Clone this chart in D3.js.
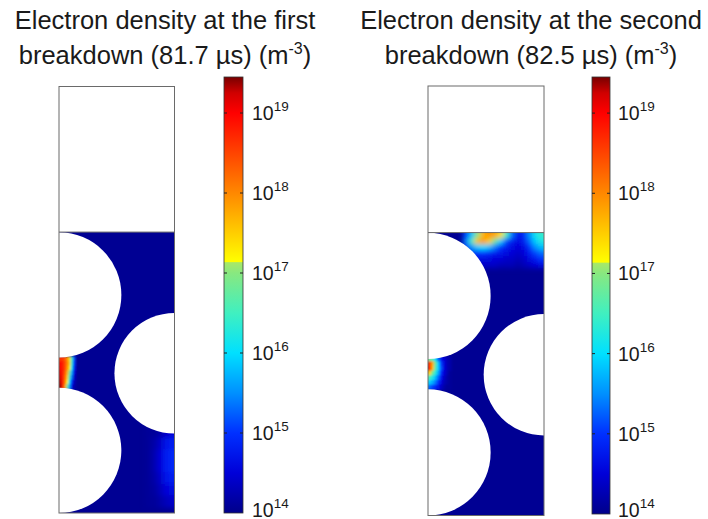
<!DOCTYPE html>
<html><head><meta charset="utf-8">
<script src="https://cdn.jsdelivr.net/npm/d3@7"></script>
<style>body{margin:0;background:#fff} svg{display:block}</style>
</head><body>
<svg id="c" width="708" height="519"></svg>
<script>
// ---------- DATA ----------
// colormap stops (log10 of electron density, m^-3)
const stopValues = [14.0, 14.5, 15.0, 15.5, 16.0, 16.5, 17.0, 17.13, 17.14, 17.6, 18.0, 18.5, 19.0, 19.25, 19.45];
const stopColors = ["#00008a", "#0000d8", "#0030ff", "#0090ff", "#00e0ff", "#40f0c0", "#88e880", "#a8e868",
                    "#ffff00", "#ffc000", "#ff8800", "#ff4400", "#ff0000", "#d00000", "#780000"];
const tickExponents = [14, 15, 16, 17, 18, 19];
const logMin = 14, logMax = 19.45;

const titleLine1 = ["Electron density at the first", "Electron density at the second"];
const titleLine2 = ["breakdown (81.7 \u00b5s) (m", "breakdown (82.5 \u00b5s) (m"];
const titleSup = "-3";

// geometry (domain units: width = 1)
const domainHeight = 3.677;
const fluidTop = 2.422;
const circles = [
  {cx: 0, cy: 0.54, r: 0.54},
  {cx: 1, cy: 1.205, r: 0.52},
  {cx: 0, cy: 1.88, r: 0.54}
];
const baseLog = 14.06;

// field patches: x0 left, y0 top, dx, dy cell size, rows go downward
const leftHotSpot = {x0: 0, y0: 1.35, dx: 0.02, dy: 0.04, values: [
  [18.6, 18.6, 18.4, 18.0, 17.4, 16.5, 15.2],
  [18.9, 18.8, 18.5, 18.1, 17.5, 16.4, 15.1],
  [19.0, 18.8, 18.5, 18.0, 17.3, 16.1, 14.9],
  [19.1, 18.8, 18.4, 17.8, 17.0, 15.7, 14.6],
  [19.2, 18.8, 18.3, 17.6, 16.6, 15.4, 14.4],
  [19.3, 18.8, 18.2, 17.3, 16.1, 15.0, 14.3],
  [19.4, 18.8, 17.9, 16.9, 15.7, 14.7, 14.2]
]};
const leftLowerRight = {x0: 0.75, y0: 0.75, dx: 0.05, dy: 0.1, values: [
  [14.1, 14.1, 14.2, 14.4, 14.5],
  [14.1, 14.2, 14.4, 14.7, 14.8],
  [14.1, 14.25, 14.5, 14.8, 14.9],
  [14.1, 14.25, 14.5, 14.8, 14.9],
  [14.1, 14.2, 14.4, 14.7, 14.8],
  [14.1, 14.15, 14.3, 14.5, 14.6],
  [14.1, 14.1, 14.2, 14.3, 14.4]
]};
const rightHotSpot = {x0: 0, y0: 1.36, dx: 0.025, dy: 0.04, values: [
  [16.8, 16.6, 16.0, 15.3, 14.8, 14.5, 14.3, 14.2],
  [18.7, 17.8, 16.8, 15.9, 15.1, 14.6, 14.3, 14.2],
  [18.9, 17.7, 16.7, 15.9, 15.2, 14.6, 14.3, 14.2],
  [17.5, 16.9, 16.3, 15.7, 15.0, 14.5, 14.3, 14.1],
  [16.5, 16.2, 15.8, 15.3, 14.8, 14.4, 14.2, 14.1],
  [15.9, 15.7, 15.4, 15.0, 14.6, 14.3, 14.2, 14.1],
  [15.3, 15.1, 14.9, 14.7, 14.4, 14.2, 14.1, 14.1]
]};
const rightTopBlob = {x0: 0.3, y0: 2.422, dx: 0.05, dy: 0.05, values: [
  [15.1, 15.8, 17.0, 17.7, 17.9, 17.8, 17.4, 16.5, 15.3, 14.7, 14.9, 15.5, 16.1, 16.4],
  [15.4, 16.5, 17.6, 17.9, 17.5, 16.8, 15.9, 15.1, 14.8, 14.6, 14.8, 15.3, 15.9, 16.2],
  [15.0, 15.5, 15.9, 16.0, 15.8, 15.4, 15.0, 14.8, 14.6, 14.5, 14.6, 15.0, 15.5, 15.8],
  [14.6, 14.8, 15.0, 15.0, 14.9, 14.8, 14.7, 14.6, 14.5, 14.4, 14.5, 14.8, 15.1, 15.3],
  [14.3, 14.5, 14.6, 14.6, 14.6, 14.5, 14.5, 14.4, 14.4, 14.3, 14.4, 14.6, 14.8, 15.0],
  [14.2, 14.3, 14.4, 14.4, 14.4, 14.4, 14.3, 14.3, 14.3, 14.2, 14.3, 14.4, 14.5, 14.6]
]};
const panelPatches = [[leftLowerRight, leftHotSpot], [rightTopBlob, rightHotSpot]];

// ---------- LAYOUT ----------
const panels = [
  {xr: [59, 174.5], yr: [513, 86.5], cbx: 224, cbw: 19, cby: [513, 77], labelX: 252, titleX: 165},
  {xr: [428, 544], yr: [515.5, 86], cbx: 592, cbw: 18, cby: [514, 77], labelX: 618, titleX: 531}
];
const FONT = "'Liberation Sans', Arial, sans-serif";

const svg = d3.select("#c");
const defs = svg.append("defs");
const color = d3.scaleLinear().domain(stopValues).range(stopColors).interpolate(d3.interpolateRgb).clamp(true);

panels.forEach((p, pi) => {
  const x = d3.scaleLinear().domain([0, 1]).range(p.xr);
  const y = d3.scaleLinear().domain([0, domainHeight]).range(p.yr);

  // mask = fluid region (rect minus circles)
  const mask = defs.append("mask").attr("id", "m" + pi).attr("maskUnits", "userSpaceOnUse")
    .attr("x", 0).attr("y", 0).attr("width", 708).attr("height", 519);
  mask.append("rect").attr("x", x(0)).attr("y", y(fluidTop))
    .attr("width", x(1) - x(0)).attr("height", y(0) - y(fluidTop)).attr("fill", "#fff");
  mask.selectAll("ellipse").data(circles).join("ellipse")
    .attr("cx", d => x(d.cx)).attr("cy", d => y(d.cy))
    .attr("rx", d => x(d.r) - x(0)).attr("ry", d => y(0) - y(d.r)).attr("fill", "#000");

  const g = svg.append("g").attr("mask", `url(#m${pi})`);
  g.append("rect").attr("x", x(0) - 10).attr("y", y(fluidTop) - 10)
    .attr("width", x(1) - x(0) + 20).attr("height", y(0) - y(fluidTop) + 20)
    .attr("fill", color(baseLog));

  panelPatches[pi].forEach((pt, k) => {
    const cw = x(pt.dx) - x(0), ch = y(0) - y(pt.dy);
    const fid = `b${pi}_${k}`;
    defs.append("filter").attr("id", fid).attr("filterUnits", "userSpaceOnUse")
      .attr("x", 0).attr("y", 0).attr("width", 708).attr("height", 519)
      .append("feGaussianBlur").attr("stdDeviation", Math.max(0.9, Math.min(cw, ch) * 0.45));
    const cells = [];
    pt.values.forEach((row, i) => row.forEach((v, j) => {
      const xa = pt.x0 + j * pt.dx, xb = xa + pt.dx;
      const yt = pt.y0 - i * pt.dy, yb = yt - pt.dy;
      let px0 = x(xa), px1 = x(xb), py0 = y(yt), py1 = y(yb);
      if (Math.abs(xa) < 1e-6) px0 -= 8;
      if (Math.abs(xb - 1) < 1e-6) px1 += 8;
      if (Math.abs(yt - fluidTop) < 1e-6) py0 -= 8;
      cells.push({x: px0, y: py0, w: px1 - px0 + 0.6, h: py1 - py0 + 0.6, v});
    }));
    g.append("g").attr("filter", `url(#${fid})`)
      .selectAll("rect").data(cells).join("rect")
      .attr("x", d => d.x).attr("y", d => d.y).attr("width", d => d.w).attr("height", d => d.h)
      .attr("fill", d => color(d.v));
  });

  // box outline and divider
  svg.append("rect").attr("x", x(0)).attr("y", y(domainHeight))
    .attr("width", x(1) - x(0)).attr("height", y(0) - y(domainHeight))
    .attr("fill", "none").attr("stroke", "#6a6a6a").attr("stroke-width", 1);
  svg.append("line").attr("x1", x(0)).attr("x2", x(1)).attr("y1", y(fluidTop)).attr("y2", y(fluidTop))
    .attr("stroke", "#6a6a6a").attr("stroke-width", 1);

  // colorbar
  const cb = d3.scaleLinear().domain([logMin, logMax]).range(p.cby);
  const grad = defs.append("linearGradient").attr("id", "g" + pi)
    .attr("x1", 0).attr("y1", 1).attr("x2", 0).attr("y2", 0);
  grad.selectAll("stop").data(stopValues).join("stop")
    .attr("offset", d => (d - logMin) / (logMax - logMin))
    .attr("stop-color", d => color(d));
  svg.append("rect").attr("x", p.cbx).attr("y", cb(logMax)).attr("width", p.cbw)
    .attr("height", cb(logMin) - cb(logMax)).attr("fill", `url(#g${pi})`)
    .attr("stroke", "#333").attr("stroke-width", 0.8);
  const ticks = svg.append("g");
  tickExponents.filter(e => e > logMin).forEach(e => {
    ticks.append("line").attr("x1", p.cbx).attr("x2", p.cbx + 3).attr("y1", cb(e)).attr("y2", cb(e))
      .attr("stroke", "#222").attr("stroke-width", 1);
    ticks.append("line").attr("x1", p.cbx + p.cbw - 3).attr("x2", p.cbx + p.cbw).attr("y1", cb(e)).attr("y2", cb(e))
      .attr("stroke", "#222").attr("stroke-width", 1);
  });
  tickExponents.forEach(e => {
    const t = svg.append("text").attr("x", p.labelX).attr("y", Math.min(cb(e) + 7, 516.5))
      .attr("font-family", FONT).attr("font-size", 19.5).attr("fill", "#1a1a1a");
    t.append("tspan").text("10");
    t.append("tspan").attr("font-size", 13.5).attr("dy", -9).text(String(e));
  });

  // titles
  svg.append("text").attr("x", p.titleX).attr("y", 29).attr("text-anchor", "middle")
    .attr("font-family", FONT).attr("font-size", 25.5).attr("fill", "#1a1a1a").text(titleLine1[pi]);
  const t2 = svg.append("text").attr("x", p.titleX).attr("y", 64).attr("text-anchor", "middle")
    .attr("font-family", FONT).attr("font-size", 25.5).attr("fill", "#1a1a1a");
  t2.append("tspan").text(titleLine2[pi]);
  t2.append("tspan").attr("font-size", 16).attr("dy", -10).text(titleSup);
  t2.append("tspan").attr("dy", 10).text(")");
});
</script>
</body></html>
